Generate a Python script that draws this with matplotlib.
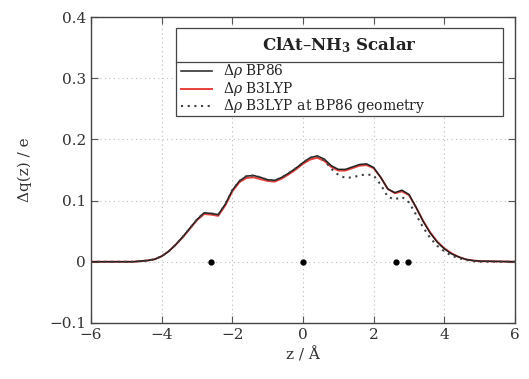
import matplotlib
matplotlib.use('Agg')
import matplotlib.pyplot as plt
import matplotlib.patches as pch

plt.rcParams['font.family'] = 'DejaVu Serif'
plt.rcParams['mathtext.fontset'] = 'dejavuserif'

# z grid (Angstrom)
z = [-6.0, -5.0, -4.8, -4.6, -4.4, -4.2, -4.0, -3.8, -3.6, -3.4, -3.2,
     -3.0, -2.8, -2.6, -2.4, -2.2, -2.0, -1.8, -1.6, -1.4, -1.2,
     -1.0, -0.8, -0.6, -0.4, -0.2, 0.0, 0.2, 0.4, 0.6, 0.8,
     1.0, 1.2, 1.4, 1.6, 1.8, 2.0, 2.2, 2.4, 2.6, 2.8,
     3.0, 3.2, 3.4, 3.6, 3.8, 4.0, 4.2, 4.4, 4.6, 4.8, 5.0, 6.0]

bp86 = [0.000, 0.000, 0.000, 0.001, 0.002, 0.004, 0.009, 0.017, 0.028, 0.041, 0.055,
        0.069, 0.080, 0.079, 0.077, 0.094, 0.117, 0.132, 0.140, 0.141, 0.138,
        0.134, 0.133, 0.138, 0.145, 0.153, 0.162, 0.170, 0.173, 0.168, 0.157,
        0.151, 0.151, 0.155, 0.159, 0.160, 0.154, 0.138, 0.119, 0.113, 0.117,
        0.110, 0.089, 0.066, 0.047, 0.032, 0.021, 0.013, 0.008, 0.004, 0.002, 0.001, 0.000]

b3lyp = [0.000, 0.000, 0.000, 0.001, 0.002, 0.004, 0.009, 0.017, 0.028, 0.040, 0.054,
         0.068, 0.078, 0.077, 0.075, 0.092, 0.115, 0.130, 0.137, 0.138, 0.135,
         0.132, 0.131, 0.136, 0.143, 0.151, 0.160, 0.167, 0.170, 0.165, 0.155,
         0.149, 0.149, 0.153, 0.157, 0.158, 0.153, 0.138, 0.119, 0.112, 0.115,
         0.109, 0.089, 0.067, 0.048, 0.033, 0.022, 0.014, 0.008, 0.004, 0.002, 0.001, 0.000]

b3lyp_bp = [0.000, 0.000, 0.000, 0.001, 0.002, 0.004, 0.009, 0.017, 0.028, 0.041, 0.055,
            0.069, 0.080, 0.079, 0.077, 0.094, 0.117, 0.132, 0.140, 0.141, 0.138,
            0.134, 0.133, 0.138, 0.145, 0.153, 0.162, 0.170, 0.173, 0.166, 0.152,
            0.142, 0.137, 0.138, 0.141, 0.143, 0.141, 0.126, 0.106, 0.102, 0.106,
            0.097, 0.077, 0.056, 0.039, 0.026, 0.017, 0.010, 0.006, 0.003, 0.001, 0.000, 0.000]

# atom positions along z
atoms = [-2.6, 0.0, 2.63, 2.97]

labels = [r'$\Delta\rho$ BP86', r'$\Delta\rho$ B3LYP', r'$\Delta\rho$ B3LYP at BP86 geometry']
title = r'ClAt–NH$_\mathbf{3}$ Scalar'

fig = plt.figure(figsize=(5.29, 3.79), dpi=100)
ax = fig.add_axes([0.172, 0.148, 0.8015, 0.807])

ax.plot(z, b3lyp, color='#e8403a', lw=1.4, zorder=3)
ax.plot(z, bp86, color='#202020', lw=1.1, zorder=4)
ax.plot(z, b3lyp_bp, color='#404040', lw=1.5, ls=(0, (1, 2.2)), zorder=5)
ax.plot(atoms, [0] * len(atoms), 'o', color='black', ms=3.5, zorder=6)

ax.set_xlim(-6, 6)
ax.set_ylim(-0.1, 0.4)
ax.set_xticks([-6, -4, -2, 0, 2, 4, 6])
ax.set_xticklabels(['−6', '−4', '−2', '0', '2', '4', '6'])
ax.set_yticks([-0.1, 0, 0.1, 0.2, 0.3, 0.4])
ax.set_yticklabels(['−0.1', '0', '0.1', '0.2', '0.3', '0.4'])
ax.tick_params(direction='in', top=True, right=True, length=5, width=0.8,
               color='#555555', labelsize=11, labelcolor='#333333')
ax.grid(True, ls=(0, (1, 3)), color='#bbbbbb', lw=0.8)
for s in ax.spines.values():
    s.set_color('#444444')
    s.set_linewidth(1.0)

ax.set_xlabel('z / Å', fontsize=11, color='#333333', labelpad=4)
ax.set_ylabel('Δq(z) / e', fontsize=11, color='#333333', labelpad=12)

# legend box drawn by hand (title row + separator)
tr = ax.transAxes
x0, x1, y0, y1, ysep = 0.2005, 0.9717, 0.676, 0.964, 0.853
ax.add_patch(pch.Rectangle((x0, y0), x1 - x0, y1 - y0, transform=tr,
                           fc='white', ec='#444444', lw=0.9, zorder=7))
ax.plot([x0, x1], [ysep, ysep], transform=tr, color='#444444', lw=0.9, zorder=8)
ax.text((x0 + x1) / 2, (ysep + y1) / 2, title, transform=tr, ha='center', va='center',
        fontsize=12, fontweight='bold', color='#222222', zorder=8)
styles = [dict(color='#202020', lw=1.1), dict(color='#e8403a', lw=1.4),
          dict(color='#404040', lw=1.5, ls=(0, (1, 2.2)))]
rows = [0.822, 0.766, 0.710]
for lab, st, yr in zip(labels, styles, rows):
    ax.plot([0.212, 0.285], [yr, yr], transform=tr, zorder=8, **st)
    ax.text(0.312, yr, lab, transform=tr, va='center', ha='left',
            fontsize=10, color='#222222', zorder=8)

fig.savefig('out.png', dpi=100)
